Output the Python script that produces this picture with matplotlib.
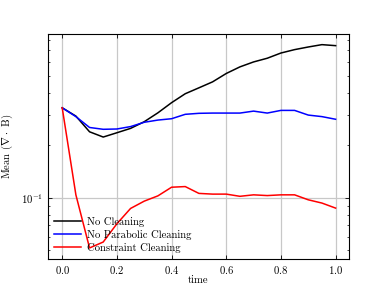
import matplotlib
matplotlib.use("Agg")
import matplotlib.pyplot as plt
from matplotlib.ticker import LogLocator, NullFormatter

# time samples and mean divergence for each run
time = [0.0, 0.05, 0.1, 0.15, 0.2, 0.25, 0.3, 0.35, 0.4, 0.45, 0.5,
        0.55, 0.6, 0.65, 0.7, 0.75, 0.8, 0.85, 0.9, 0.95, 1.0]
no_cleaning = [0.328, 0.294, 0.239, 0.223, 0.236, 0.250, 0.273, 0.307, 0.351, 0.395, 0.427,
               0.462, 0.516, 0.563, 0.601, 0.631, 0.676, 0.707, 0.732, 0.755, 0.745]
no_parabolic = [0.328, 0.292, 0.253, 0.247, 0.248, 0.256, 0.271, 0.279, 0.284, 0.301, 0.305,
                0.306, 0.306, 0.306, 0.314, 0.306, 0.317, 0.317, 0.298, 0.292, 0.282]
constraint = [0.328, 0.104, 0.0516, 0.0558, 0.071, 0.0869, 0.0957, 0.1026, 0.115, 0.116, 0.106,
              0.105, 0.105, 0.102, 0.104, 0.103, 0.104, 0.104, 0.0974, 0.0933, 0.0873]

plt.rcParams["font.family"] = ["cmr10", "DejaVu Serif"]
plt.rcParams["font.size"] = 7.7
plt.rcParams["mathtext.fontset"] = "cm"
plt.rcParams["axes.formatter.use_mathtext"] = True

fig = plt.figure(figsize=(3.88, 2.91), dpi=100)
ax = fig.add_axes([0.1237, 0.110, 0.7758, 0.772])

ax.plot(time, no_cleaning, color="black", lw=1.1, label="No Cleaning")
ax.plot(time, no_parabolic, color="blue", lw=1.1, label="No Parabolic Cleaning")
ax.plot(time, constraint, color="red", lw=1.1, label="Constraint Cleaning")

ax.set_yscale("log")
ax.set_xlim(-0.052, 1.049)
ax.set_ylim(0.0446, 0.865)
ax.yaxis.set_minor_locator(LogLocator(base=10, subs=range(2, 10)))
ax.yaxis.set_minor_formatter(NullFormatter())

ax.grid(True, which="major", color="#c8c8c8", lw=0.9)
ax.tick_params(which="both", direction="in", top=True, right=True)
ax.tick_params(which="major", length=3, width=0.6)
ax.tick_params(which="minor", length=1.5, width=0.5)
for s in ax.spines.values():
    s.set_linewidth(0.8)

ax.set_xlabel("time")
ax.xaxis.set_label_coords(0.5, -0.075)
ax.set_ylabel(r"Mean ($\nabla \cdot$ B)")

ax.legend(loc="lower left", frameon=False, handlelength=2.5, handletextpad=0.6,
          labelspacing=0.3, borderaxespad=0.15)

fig.savefig("out.png", dpi=100)
